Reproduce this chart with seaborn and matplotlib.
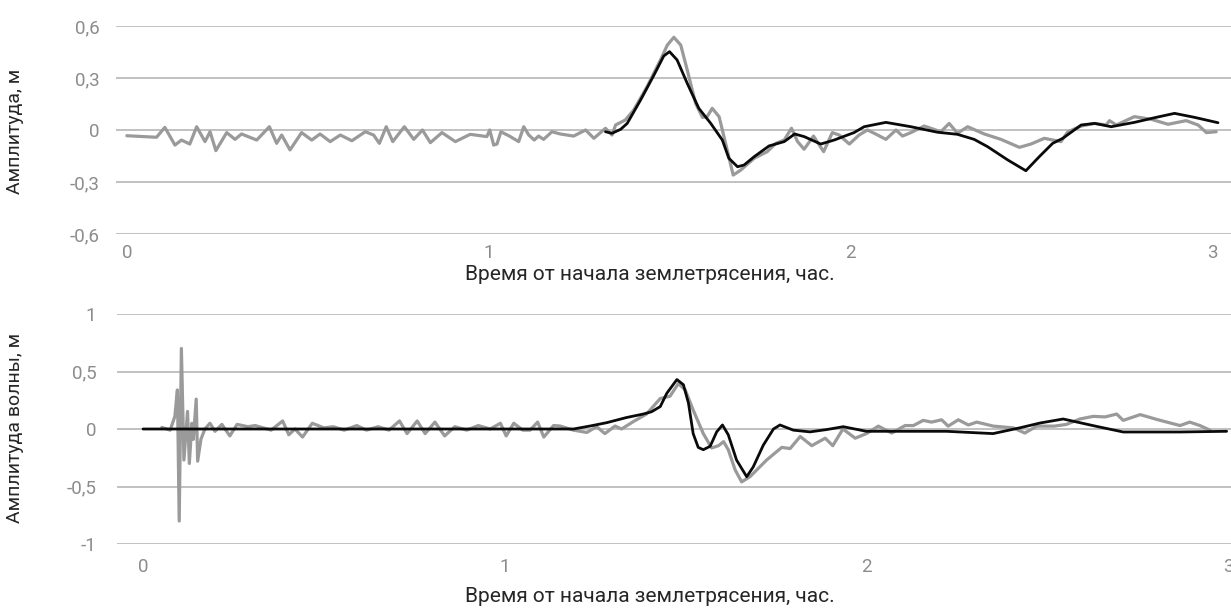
import matplotlib
matplotlib.use("Agg")
import matplotlib.pyplot as plt
import seaborn as sns
import pandas as pd

# ---------------- data ----------------
top_gray_t = [0.0, 0.082, 0.105, 0.133, 0.151, 0.174, 0.193, 0.216, 0.230, 0.246, 0.276, 0.299, 0.317,
              0.359, 0.394, 0.414, 0.428, 0.451, 0.483, 0.511, 0.534, 0.562, 0.590, 0.622, 0.659, 0.682,
              0.698, 0.717, 0.735, 0.767, 0.793, 0.817, 0.839, 0.871, 0.908, 0.949, 0.995, 1.003, 1.014,
              1.023, 1.034, 1.060, 1.083, 1.097, 1.111, 1.126, 1.138, 1.152, 1.175, 1.198, 1.235, 1.268,
              1.291, 1.323, 1.341, 1.351, 1.378, 1.401, 1.438, 1.475, 1.494, 1.512, 1.531, 1.549, 1.572,
              1.591, 1.604, 1.618, 1.637, 1.655, 1.676, 1.697, 1.734, 1.770, 1.794, 1.817, 1.837, 1.854,
              1.872, 1.898, 1.926, 1.950, 1.969, 1.997, 2.024, 2.047, 2.066, 2.098, 2.126, 2.144, 2.167,
              2.204, 2.250, 2.273, 2.296, 2.324, 2.370, 2.416, 2.467, 2.499, 2.536, 2.582, 2.601, 2.638,
              2.675, 2.707, 2.716, 2.735, 2.785, 2.831, 2.878, 2.928, 2.961, 2.984, 3.011]
top_gray_v = [-0.033, -0.042, 0.015, -0.087, -0.058, -0.081, 0.019, -0.067, -0.010, -0.119, -0.015, -0.054, -0.023,
              -0.058, 0.019, -0.077, -0.029, -0.115, -0.015, -0.058, -0.023, -0.067, -0.029, -0.062, -0.010, -0.029,
              -0.077, 0.019, -0.067, 0.019, -0.054, 0.000, -0.073, -0.015, -0.067, -0.025, -0.038, 0.000, -0.087,
              -0.081, -0.010, -0.038, -0.067, 0.019, -0.029, -0.058, -0.035, -0.054, -0.010, -0.023, -0.035, 0.000,
              -0.048, 0.010, -0.029, 0.029, 0.058, 0.115, 0.250, 0.404, 0.490, 0.535, 0.490, 0.346, 0.154,
              0.073, 0.077, 0.125, 0.077, -0.077, -0.260, -0.231, -0.163, -0.125, -0.077, -0.058, 0.010, -0.067,
              -0.111, -0.035, -0.125, -0.015, -0.029, -0.081, -0.029, 0.000, -0.019, -0.054, 0.000, -0.035, -0.015,
              0.023, -0.010, 0.038, -0.019, 0.019, -0.023, -0.054, -0.100, -0.081, -0.048, -0.067, -0.010, 0.023,
              0.038, 0.029, 0.054, 0.029, 0.077, 0.062, 0.033, 0.054, 0.029, -0.015, -0.010]

top_black_t = [1.323, 1.341, 1.365, 1.383, 1.420, 1.457, 1.484, 1.500, 1.521, 1.549, 1.581, 1.614, 1.646,
               1.664, 1.688, 1.706, 1.734, 1.775, 1.817, 1.846, 1.872, 1.918, 1.955, 1.992, 2.010, 2.038,
               2.098, 2.167, 2.241, 2.296, 2.342, 2.379, 2.435, 2.485, 2.522, 2.559, 2.587, 2.638, 2.675,
               2.721, 2.785, 2.841, 2.896, 2.951, 3.016]
top_black_v = [-0.010, -0.019, 0.004, 0.038, 0.173, 0.317, 0.427, 0.452, 0.404, 0.269, 0.125, 0.038, -0.058,
               -0.163, -0.212, -0.202, -0.154, -0.092, -0.067, -0.023, -0.038, -0.081, -0.058, -0.029, -0.015, 0.019,
               0.044, 0.019, -0.013, -0.025, -0.054, -0.096, -0.173, -0.235, -0.154, -0.077, -0.048, 0.029, 0.038,
               0.019, 0.044, 0.071, 0.096, 0.073, 0.042]

bot_gray_t = [0.052, 0.075, 0.088, 0.095, 0.100, 0.106, 0.113, 0.123, 0.128, 0.135, 0.139, 0.147, 0.151,
              0.160, 0.171, 0.185, 0.199, 0.218, 0.240, 0.260, 0.290, 0.310, 0.354, 0.386, 0.403, 0.420,
              0.441, 0.468, 0.500, 0.526, 0.556, 0.591, 0.618, 0.650, 0.680, 0.709, 0.730, 0.758, 0.780,
              0.807, 0.834, 0.862, 0.895, 0.927, 0.960, 0.988, 1.004, 1.025, 1.050, 1.070, 1.091, 1.108,
              1.135, 1.153, 1.190, 1.227, 1.254, 1.277, 1.305, 1.323, 1.356, 1.392, 1.430, 1.457, 1.480,
              1.499, 1.521, 1.549, 1.572, 1.591, 1.605, 1.618, 1.637, 1.655, 1.678, 1.724, 1.766, 1.789,
              1.817, 1.849, 1.886, 1.907, 1.935, 1.969, 2.000, 2.033, 2.070, 2.107, 2.130, 2.157, 2.180,
              2.208, 2.226, 2.254, 2.282, 2.305, 2.351, 2.406, 2.438, 2.471, 2.520, 2.553, 2.590, 2.627,
              2.660, 2.692, 2.710, 2.757, 2.803, 2.867, 2.894, 2.922, 2.950]
bot_gray_v = [0.014, -0.010, 0.110, 0.340, -0.800, 0.700, -0.270, 0.153, -0.300, 0.050, -0.090, 0.260, -0.280,
              -0.090, 0.000, 0.050, -0.020, 0.040, -0.060, 0.040, 0.020, 0.030, -0.010, 0.070, -0.050, 0.000,
              -0.070, 0.050, 0.010, 0.020, -0.010, 0.030, -0.010, 0.020, -0.010, 0.070, -0.040, 0.070, -0.040,
              0.060, -0.060, 0.020, -0.010, 0.030, 0.000, 0.050, -0.060, 0.050, -0.010, -0.010, 0.060, -0.070,
              0.030, 0.026, -0.010, -0.030, 0.020, -0.040, 0.026, 0.000, 0.065, 0.130, 0.265, 0.285, 0.395,
              0.340, 0.165, -0.040, -0.165, -0.145, -0.110, -0.180, -0.355, -0.460, -0.415, -0.270, -0.160, -0.170,
              -0.065, -0.145, -0.080, -0.145, 0.000, -0.080, -0.040, 0.025, -0.035, 0.030, 0.030, 0.075, 0.060,
              0.080, 0.025, 0.080, 0.035, 0.060, 0.025, 0.010, -0.035, 0.025, 0.025, 0.040, 0.087, 0.110,
              0.105, 0.130, 0.075, 0.125, 0.083, 0.030, 0.060, 0.030, -0.010]

bot_black_t = [0.000, 1.190, 1.236, 1.282, 1.337, 1.383, 1.406, 1.430, 1.448, 1.476, 1.494, 1.508, 1.521,
               1.535, 1.549, 1.568, 1.586, 1.602, 1.618, 1.641, 1.669, 1.687, 1.715, 1.743, 1.761, 1.798,
               1.844, 1.890, 1.936, 2.000, 2.221, 2.350, 2.424, 2.480, 2.544, 2.636, 2.710, 2.867, 2.996]
bot_black_v = [0.000, 0.000, 0.026, 0.055, 0.100, 0.130, 0.150, 0.195, 0.310, 0.430, 0.385, 0.225, -0.040,
               -0.160, -0.180, -0.150, -0.025, 0.035, -0.050, -0.270, -0.415, -0.330, -0.140, 0.000, 0.035, -0.010,
               -0.025, -0.005, 0.020, -0.020, -0.020, -0.040, 0.010, 0.052, 0.087, 0.023, -0.026, -0.026, -0.020]

top_yticks = [0.6, 0.3, 0.0, -0.3, -0.6]
top_yticklabels = ["0,6", "0,3", "0", "-0,3", "-0,6"]
bot_yticks = [1.0, 0.5, 0.0, -0.5, -1.0]
bot_yticklabels = ["1", "0,5", "0", "-0,5", "-1"]
xticks = [0, 1, 2, 3]
xticklabels = ["0", "1", "2", "3"]

xlabel = "Время от начала землетрясения, час."
top_ylabel = "Амплитуда, м"
bot_ylabel = "Амплитуда волны, м"

# ---------------- style ----------------
sns.set_theme(style="white")
plt.rcParams["font.family"] = ["Roboto", "DejaVu Sans"]

GRAY = "#9a9a9a"
BLACK = "#0a0a0a"
GRID = "#bcbcbc"
TICKC = "#8c8c8c"
LABELC = "#262626"

W, H = 1231, 608
fig = plt.figure(figsize=(W / 100, H / 100), dpi=100)

def px_box(left, right, top, bottom):
    return [left / W, 1 - bottom / H, (right - left) / W, (bottom - top) / H]

ax1 = fig.add_axes(px_box(116, 1231, 26, 234))
ax2 = fig.add_axes(px_box(117, 1231, 314, 544))

df_top_g = pd.DataFrame({"t": top_gray_t, "v": top_gray_v})
df_top_b = pd.DataFrame({"t": top_black_t, "v": top_black_v})
df_bot_g = pd.DataFrame({"t": bot_gray_t, "v": bot_gray_v})
df_bot_b = pd.DataFrame({"t": bot_black_t, "v": bot_black_v})

for ax, dg, db, yt, ytl, xlim, ylim in [
    (ax1, df_top_g, df_top_b, top_yticks, top_yticklabels, (-0.030, 3.052), (-0.6, 0.6)),
    (ax2, df_bot_g, df_bot_b, bot_yticks, bot_yticklabels, (-0.072, 3.008), (-1.0, 1.0)),
]:
    for yv in yt:
        ax.axhline(yv, color=GRID, lw=1.3, zorder=0)
    sns.lineplot(data=dg, x="t", y="v", ax=ax, color=GRAY, lw=2.3, sort=False,
                 estimator=None, zorder=2)
    sns.lineplot(data=db, x="t", y="v", ax=ax, color=BLACK, lw=2.0, sort=False,
                 estimator=None, zorder=3)
    ax.set_xlim(*xlim)
    ax.set_ylim(*ylim)
    for s in ax.spines.values():
        s.set_visible(False)
    ax.set_yticks(yt)
    ax.set_yticklabels(ytl)
    ax.set_xticks(xticks)
    ax.set_xticklabels(xticklabels)
    ax.set_xlabel("")
    ax.set_ylabel("")
    ax.tick_params(axis="y", length=0, labelsize=13.5, labelcolor=TICKC)
    ax.tick_params(axis="x", direction="in", length=7, width=1.2, color=GRID,
                   labelsize=13.5, labelcolor=TICKC)
    ax.patch.set_alpha(0)

ax1.tick_params(axis="y", pad=12)
ax1.tick_params(axis="x", pad=7)
ax2.tick_params(axis="y", pad=15)
ax2.tick_params(axis="x", pad=10)

fig.text(650 / W, 1 - 275 / H, xlabel, ha="center", va="center", fontsize=15, color=LABELC)
fig.text(650 / W, 1 - 597 / H, xlabel, ha="center", va="center", fontsize=15, color=LABELC)
fig.text(15 / W, 1 - 131 / H, top_ylabel, ha="center", va="center", rotation=90,
         fontsize=14, color=LABELC)
fig.text(15 / W, 1 - 428 / H, bot_ylabel, ha="center", va="center", rotation=90,
         fontsize=14, color=LABELC)

fig.savefig("out.png", dpi=100)
